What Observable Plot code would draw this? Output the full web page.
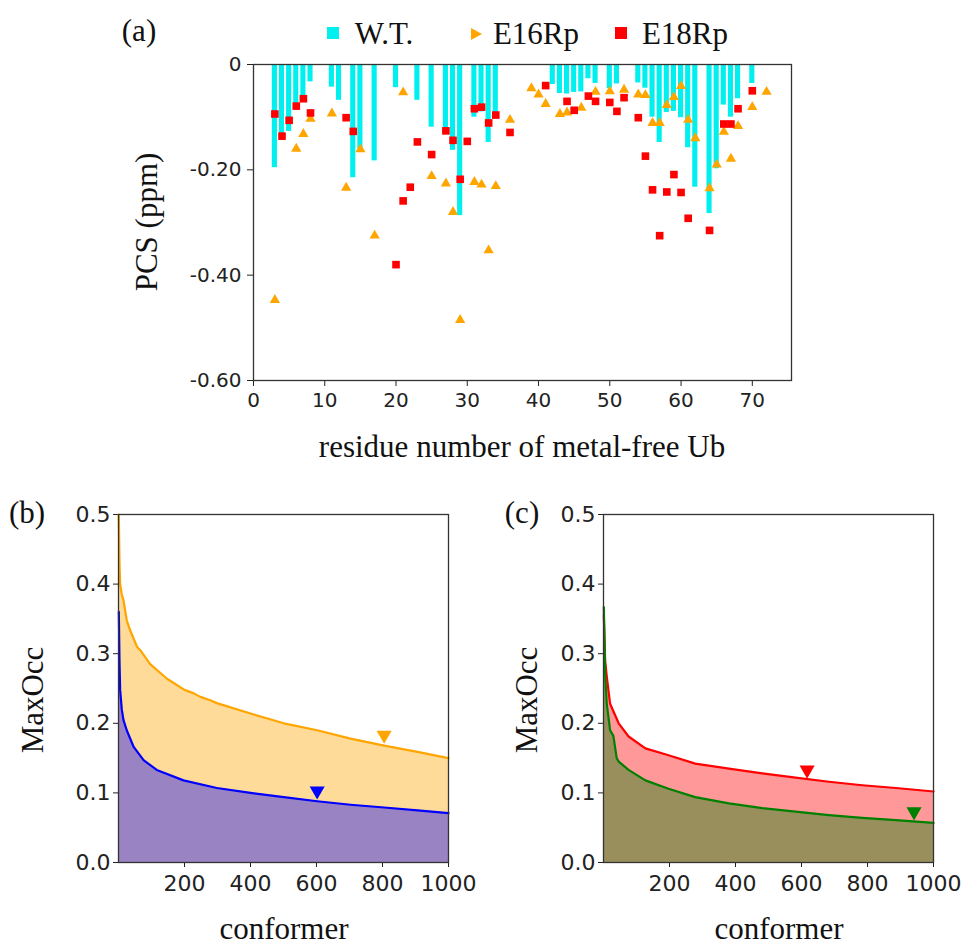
<!DOCTYPE html>
<html>
<head>
<meta charset="utf-8">
<script src="https://cdn.jsdelivr.net/npm/d3@7"></script>
<script src="https://cdn.jsdelivr.net/npm/@observablehq/plot@0.6"></script>
<style>
  html, body { margin: 0; padding: 0; background: #fff; }
  #root { position: relative; width: 963px; height: 944px; overflow: hidden; background: #fff; }
  .pl { position: absolute; }
  .lab { position: absolute; font-family: "Liberation Serif", "Times New Roman", serif; font-size: 31px; color: #111; white-space: nowrap; line-height: 1; }
  .rot { transform: translate(-50%, -50%) rotate(-90deg); }
  .ctr { transform: translate(-50%, -50%); }
  .leg { position: absolute; }
</style>
</head>
<body>
<div id="root"></div>
<script>
// ---------- Panel (a): PCS per residue ----------
const wtRes = [3,4,5,6,7,8,11,12,14,15,17,20,23,25,27,28,29,31,32,33,34,42,43,44,45,46,47,48,50,51,54,55,56,57,58,59,60,61,62,64,65,66,67,68,70];
const wtVal = [-0.196,-0.144,-0.127,-0.085,-0.062,-0.033,-0.043,-0.068,-0.215,-0.160,-0.183,-0.044,-0.068,-0.119,-0.120,-0.163,-0.287,-0.100,-0.090,-0.148,-0.103,-0.038,-0.055,-0.056,-0.053,-0.052,-0.027,-0.036,-0.046,-0.037,-0.035,-0.045,-0.100,-0.148,-0.091,-0.089,-0.101,-0.158,-0.233,-0.283,-0.198,-0.077,-0.100,-0.065,-0.036];

const e16Res = [3,6,7,8,11,13,15,17,21,25,27,28,29,31,32,33,34,36,39,40,41,43,44,46,48,50,52,54,55,56,57,58,59,60,61,62,64,65,66,67,68,70,72];
const e16Val = [-0.447,-0.160,-0.132,-0.103,-0.093,-0.234,-0.161,-0.325,-0.053,-0.212,-0.226,-0.280,-0.485,-0.223,-0.228,-0.353,-0.231,-0.105,-0.045,-0.057,-0.075,-0.094,-0.091,-0.082,-0.052,-0.051,-0.048,-0.057,-0.058,-0.111,-0.111,-0.077,-0.062,-0.041,-0.105,-0.140,-0.235,-0.190,-0.128,-0.179,-0.117,-0.081,-0.052];

const e18Res = [3,4,5,6,7,8,13,14,20,21,22,23,25,27,28,29,30,31,32,33,34,36,41,44,45,47,48,50,51,52,54,55,56,57,58,59,60,61,64,66,67,68,70];
const e18Val = [-0.094,-0.136,-0.106,-0.079,-0.065,-0.092,-0.101,-0.127,-0.380,-0.259,-0.233,-0.147,-0.171,-0.126,-0.144,-0.218,-0.146,-0.084,-0.081,-0.111,-0.096,-0.129,-0.040,-0.070,-0.087,-0.060,-0.070,-0.072,-0.089,-0.063,-0.101,-0.174,-0.238,-0.325,-0.242,-0.209,-0.243,-0.292,-0.315,-0.113,-0.113,-0.084,-0.050];

const aXTicks = [0,10,20,30,40,50,60,70];
const aYTicks = [0,-0.2,-0.4,-0.6];
const legendLabels = ["W.T.", "E16Rp", "E18Rp"];

// ---------- Panel (b): MaxOcc, E16Rp (orange) and W.T. (blue) ----------
const bOrangeX = [1,3,5,10,15,25,35,56,66,96,147,200,228,248,278,298,400,501,602,703,805,906,1000];
const bOrangeY = [0.50,0.43,0.40,0.385,0.377,0.348,0.334,0.310,0.305,0.285,0.264,0.248,0.243,0.238,0.233,0.229,0.214,0.200,0.190,0.178,0.168,0.159,0.150];
const bBlueX = [1,3,5,10,15,25,46,76,116,197,298,400,501,602,703,805,906,1000];
const bBlueY = [0.36,0.29,0.248,0.220,0.205,0.190,0.166,0.147,0.133,0.118,0.107,0.100,0.094,0.088,0.083,0.079,0.075,0.071];
const bMarkX = [805, 602];
const bMarkY = [0.183, 0.103];

// ---------- Panel (c): MaxOcc, E18Rp (red) and W.T. (green) ----------
const cRedX = [1,5,10,20,46,76,127,197,278,380,481,582,683,784,886,1000];
const cRedY = [0.355,0.29,0.267,0.228,0.200,0.181,0.164,0.154,0.142,0.135,0.128,0.122,0.116,0.111,0.107,0.102];
const cGreenX = [1,5,10,20,30,40,46,76,127,197,278,380,481,582,683,784,886,1000];
const cGreenY = [0.367,0.27,0.228,0.190,0.182,0.150,0.145,0.133,0.118,0.106,0.094,0.085,0.078,0.073,0.068,0.064,0.061,0.057];
const cMarkX = [617, 941];
const cMarkY = [0.133, 0.073];

const bcXTicks = [200,400,600,800,1000];
const bcYTicks = [0,0.1,0.2,0.3,0.4,0.5];

const CYAN = "#00f0f0", ORANGE = "#ffa500", RED = "#ff0000", BLUE = "#0000ff", GREEN = "#008000";

const root = document.getElementById("root");
function place(node, left, top) {
  node.classList.add("pl");
  node.style.left = left + "px";
  node.style.top = top + "px";
  root.appendChild(node);
}
function label(text, x, y, cls) {
  const d = document.createElement("div");
  d.className = "lab " + cls;
  d.textContent = text;
  d.style.left = x + "px";
  d.style.top = y + "px";
  root.appendChild(d);
  return d;
}

// Panel (a)
const plotA = Plot.plot({
  width: 820, height: 420,
  marginLeft: 253, marginRight: 29, marginTop: 64, marginBottom: 40,
  x: {domain: [0, 75.5], ticks: aXTicks, tickFormat: d => String(d), label: null, tickSize: 6, tickPadding: 6},
  y: {domain: [-0.6, 0], ticks: aYTicks, tickFormat: d => d === 0 ? "0" : d.toFixed(2), label: null, tickSize: 6, tickPadding: 6},
  style: {fontFamily: "DejaVu Sans", fontSize: "20px", color: "#222", background: "transparent", overflow: "visible"},
  marks: [
    Plot.rect(wtRes, {x1: d => d - 0.36, x2: d => d + 0.36, y1: 0, y2: (d, i) => wtVal[i], fill: CYAN}),
    Plot.dot(e16Res, {x: d => d, y: (d, i) => e16Val[i], symbol: "triangle", r: 3.8, fill: ORANGE, stroke: "none"}),
    Plot.dot(e18Res, {x: d => d, y: (d, i) => e18Val[i], symbol: "square", r: 4.3, fill: RED, stroke: "none"}),
    Plot.frame({stroke: "#333", strokeWidth: 1.3})
  ]
});
place(plotA, 0, 0);

function panelBC(ax, ay, bx, by, colA, fillA, colB, fillB, mx, my, mcol) {
  return Plot.plot({
    width: 470, height: 420,
    marginLeft: 118, marginRight: 22, marginTop: 24, marginBottom: 48,
    x: {domain: [0, 1000], ticks: bcXTicks, tickFormat: d => String(d), label: null, tickSize: 5, tickPadding: 8},
    y: {domain: [0, 0.5], ticks: bcYTicks, tickFormat: d => d.toFixed(1), label: null, tickSize: 5, tickPadding: 3},
    style: {fontFamily: "DejaVu Sans", fontSize: "22px", color: "#222", background: "transparent", overflow: "visible"},
    marks: [
      Plot.areaY(ax, {x: d => d, y1: 0, y2: (d, i) => ay[i], fill: fillA}),
      Plot.areaY(bx, {x: d => d, y1: 0, y2: (d, i) => by[i], fill: fillB}),
      Plot.line(ax, {x: d => d, y: (d, i) => ay[i], stroke: colA, strokeWidth: 2.2}),
      Plot.line(bx, {x: d => d, y: (d, i) => by[i], stroke: colB, strokeWidth: 2.2}),
      Plot.dot(mx, {x: d => d, y: (d, i) => my[i], symbol: "triangle", rotate: 180, r: 5.6, fill: (d, i) => mcol[i], stroke: "none"}),
      Plot.frame({stroke: "#333", strokeWidth: 1.3})
    ],
    color: {type: "identity"}
  });
}

const plotB = panelBC(bOrangeX, bOrangeY, bBlueX, bBlueY, ORANGE, "#ffdb99", BLUE, "#9983c2", bMarkX, bMarkY, [ORANGE, BLUE]);
place(plotB, 0, 490);
const plotC = panelBC(cRedX, cRedY, cGreenX, cGreenY, RED, "#ff9999", GREEN, "#998f5c", cMarkX, cMarkY, [RED, GREEN]);
place(plotC, 485, 490);

// Text labels
label("(a)", 139, 30, "ctr");
label("PCS (ppm)", 146, 222, "rot");
label("residue number of metal-free Ub", 522, 446, "ctr");
label("(b)", 27, 512, "ctr");
label("MaxOcc", 32, 700, "rot");
label("conformer", 284, 928, "ctr");
label("(c)", 522, 512, "ctr");
label("MaxOcc", 526, 700, "rot");
label("conformer", 779, 928, "ctr");

// Legend
function legendMarker(svgInner, x, y) {
  const ns = "http://www.w3.org/2000/svg";
  const s = document.createElementNS(ns, "svg");
  s.setAttribute("width", 16); s.setAttribute("height", 16);
  s.setAttribute("class", "leg");
  s.style.left = (x - 8) + "px"; s.style.top = (y - 8) + "px";
  s.innerHTML = svgInner;
  root.appendChild(s);
}
legendMarker('<rect x="2" y="2" width="12" height="12" fill="' + CYAN + '"/>', 333, 33);
label(legendLabels[0], 384, 33, "ctr");
legendMarker('<polygon points="3,2 14,8 3,14" fill="' + ORANGE + '"/>', 476, 34);
label(legendLabels[1], 536, 33, "ctr");
legendMarker('<rect x="2" y="2" width="12" height="12" fill="' + RED + '"/>', 621, 33);
label(legendLabels[2], 685, 33, "ctr");
</script>
</body>
</html>
